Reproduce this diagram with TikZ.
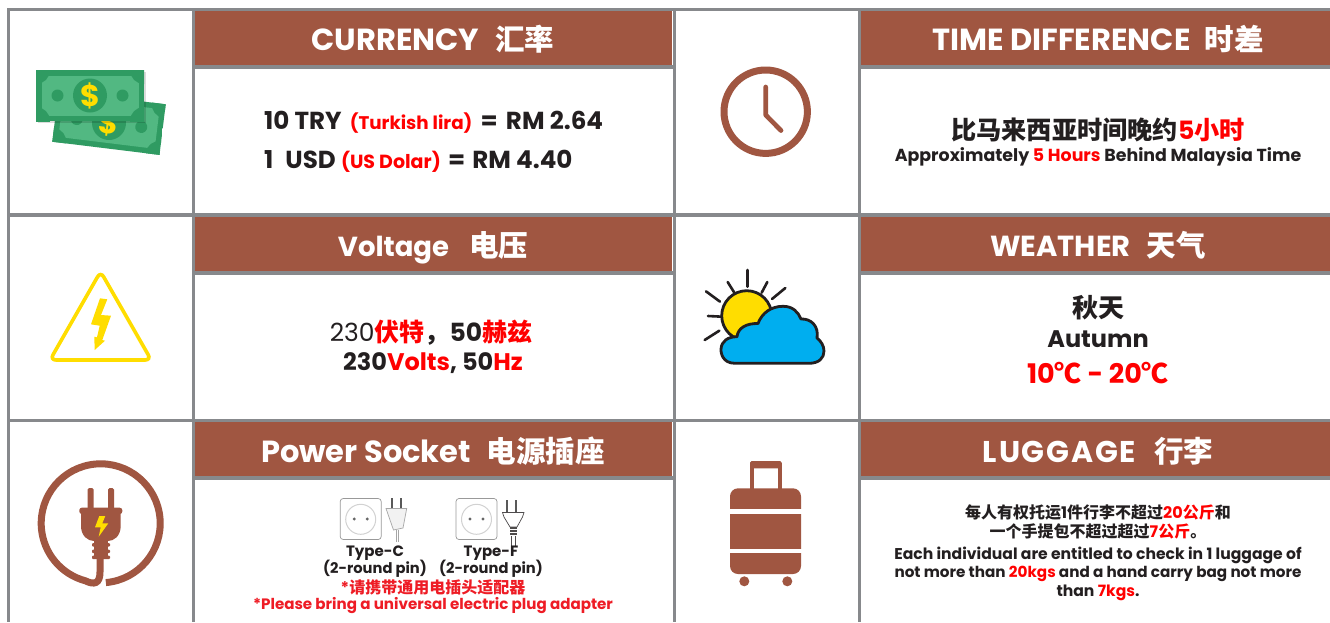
\documentclass[tikz,border=0pt]{standalone}
\usepackage{fontspec}
\setmainfont{Poppins}
\newfontfamily\cjk{Noto Sans CJK SC}
\newcommand\fs[1]{\fontsize{#1}{#1}\selectfont}
\newcommand\C[1]{{\cjk #1}}
\newcommand\HC[1]{{\cjk\fs{29.5}#1}}
\definecolor{bandc}{HTML}{A05641}
\definecolor{gridc}{HTML}{87898C}
\definecolor{ink}{HTML}{231F20}
\definecolor{rd}{HTML}{FF0000}
\definecolor{rd2}{HTML}{EE1C25}
\definecolor{ndark}{HTML}{2F9B62}
\definecolor{nlight}{HTML}{52B882}
\definecolor{yel}{HTML}{FFDD00}
\definecolor{sky}{HTML}{00AEEF}
\newcommand\R[1]{\textcolor{rd}{#1}}
\tikzset{
  every node/.style={inner sep=0pt,outer sep=0pt},
  head/.style={text=white,anchor=base,font=\bfseries\fs{30.5}},
  body/.style={text=ink,font=\bfseries\fs{24.6}},
  gridline/.style={fill=gridc,draw=none},
  band/.style={fill=bandc,draw=none},
  brown/.style={fill=bandc,draw=none},
  ray/.style={draw=ink,line width=2.6pt,line cap=round},
  sockline/.style={draw=gray!80,line width=0.7pt,fill=white},
}
\newcommand\note{%
  \begin{scope}
    \clip (-54,-25.5) rectangle (54,25.5);
    \fill[ndark] (-54,-25.5) rectangle (54,25.5);
    \fill[nlight] (-48.5,-20) rectangle (48.5,20);
    \foreach \a/\b in {-54/-25.5,54/-25.5,-54/25.5,54/25.5}
      \fill[ndark] (\a,\b) circle (14);
    \fill[ndark] (0,0) circle (17);
    \fill[ndark] (-32.5,0) circle (6);
    \fill[ndark] (32.5,0) circle (6);
  \end{scope}}
\begin{document}
\begin{tikzpicture}[x=1pt,y=-1pt]
\useasboundingbox (0,0) rectangle (1330,622);
\fill[white] (0,0) rectangle (1330,622);
% bands
\foreach \y in {11,217,422}{
  \fill[band] (195,\y) rectangle (672,\y+54);
  \fill[band] (860,\y) rectangle (1330,\y+54);
}
% grid
\fill[gridline] (7,7.5) rectangle (1330,11);
\fill[gridline] (7,213) rectangle (1330,216.8);
\fill[gridline] (7,419) rectangle (1330,422);
\foreach \y in {65,271,476}{
  \fill[gridline] (192,\y) rectangle (673,\y+3.8);
  \fill[gridline] (858,\y) rectangle (1330,\y+3.8);
}
\foreach \x in {7,192,673,857.5}
  \fill[gridline] (\x,7.5) rectangle (\x+3.3,622);
% money
\begin{scope}[shift={(109,123)},rotate=-7]
  \note
  \node[transform shape,text=yel,font=\bfseries\fs{30}] (dollarb) at (0,0) {\$};
\end{scope}
\fill[black,opacity=.14] (38,72) rectangle (146,123);
\begin{scope}[shift={(90,95.5)}]
  \note
  \node[text=yel,font=\bfseries\fs{30}] (dollarf) at (0,0) {\$};
\end{scope}
% warning triangle
\draw[yel,line width=3.6pt,rounded corners=6pt] (100.6,271.5) -- (50,360) -- (151.2,360) -- cycle;
\fill[yel] (100,298.3) -- (107.3,299.3) -- (101,315) -- (111,315.7) -- (102.3,340) -- (105,340.7) -- (94.7,350) -- (94.3,336.7) -- (97,337.3) -- (99.7,325.7) -- (91,324.3) -- cycle;
% plug
\draw[bandc,line width=7pt] (100.7,523.3) ++(-85:59.5pt) arc[start angle=-85,end angle=255,radius=59.5pt]
  .. controls (94,585) and (100,584) .. (100,572) -- (100,556);
\fill[brown,rounded corners=1.5pt] (87.7,488) rectangle (93.7,510);
\fill[brown,rounded corners=1.5pt] (108,488) rectangle (114,510);
\fill[brown,rounded corners=2.5pt] (79.3,507.7) rectangle (122.3,514);
\fill[brown] (81,512) -- (120.7,512) -- (120.7,526) .. controls (120.7,536) and (114,541) .. (108,541) -- (94,541) .. controls (88,541) and (81,536) .. (81,526) -- cycle;
\fill[brown] (94,540) rectangle (108,559);
\foreach \y in {543,549.5,555.5}
  \fill[brown,rounded corners=1pt] (92,\y) rectangle (110,\y+3.6);
\fill[yel] (99.3,516) -- (105.3,516) -- (102.3,523.3) -- (108.3,523.3) -- (98.7,536.7) -- (100.7,527.3) -- (95,527.3) -- cycle;
% clock
\draw[bandc,line width=7pt] (765.7,111.7) circle (41.7pt);
\draw[bandc,line width=4.7pt,line cap=round,line join=round] (765.7,87) -- (765.7,115) -- (781,130.5);
% sun and cloud
\foreach \a/\b/\c/\d in {203/150/203/200,143/186/163/218,262/186/245/218,78/214/120/245,316/204/276/237,84/288/125/290,74/360/118/332}
  \draw[ray] (680+\a/3,220+\b/3) -- (680+\c/3,220+\d/3);
\draw[ink,line width=2.8pt,fill=yel] (746.7,315.7) circle (25pt);
\draw[ink,line width=2.8pt,fill=sky,line join=round]
 (735,363.3) .. controls (722,363.3) and (720.7,352) .. (721,349)
 .. controls (721.5,341) and (728,336.7) .. (737,336.7)
 .. controls (738,328) and (746,323.3) .. (758,323.5)
 .. controls (762,313) and (771,306.3) .. (783,306.3)
 .. controls (793,306.3) and (798,312) .. (801,319)
 .. controls (811,318.5) and (819,326) .. (817,338)
 .. controls (821,341) and (824,346) .. (824,351)
 .. controls (824,358) and (819,363.3) .. (809,363.3) -- cycle;
% suitcase
\fill[brown,rounded corners=1.5pt] (750,461) rectangle (781.7,468.3);
\fill[brown] (750,463) rectangle (754,490);
\fill[brown] (777.7,463) rectangle (781.7,490);
\fill[brown,rounded corners=8pt] (730,488.3) rectangle (801,574);
\fill[white] (729,509.3) rectangle (802,514);
\fill[white] (729,549) rectangle (802,552.7);
\fill[brown] (744.3,581.3) circle (5);
\fill[brown] (787.3,581.3) circle (5);
% sockets
\foreach \cx in {360.7,476.5}{
  \draw[sockline,rounded corners=3pt] (\cx-20.5,498.5) rectangle (\cx+20.5,539.5);
  \draw[draw=gray!35,line width=1pt,fill=white] (\cx,519.3) circle (15);
  \fill[gray!80!black] (\cx-6.5,519) circle (1.6);
  \fill[gray!80!black] (\cx+6.5,519) circle (1.6);
}
% type C plug
\fill[gray!70!black] (391,498) rectangle (393,508);
\fill[gray!70!black] (400.3,498) rectangle (402.3,508);
\draw[draw=gray!70,line width=.7pt,fill=gray!10] (386,508.5) -- (406.7,508.5) -- (403,528) -- (393.5,530) -- cycle;
\draw[gray!70,line width=.7pt] (396,530) -- (396,541.5);
\draw[gray!70,line width=.7pt] (398,530) -- (398,541.5);
% type F plug
\fill[gray!70!black] (506,500) rectangle (508,512);
\fill[gray!70!black] (515,500) rectangle (517,512);
\draw[draw=ink!80,line width=.7pt,fill=white] (502.5,512.5) -- (524,512.5) -- (522.5,517) -- (517,527) -- (510,527) -- (504,517) -- cycle;
\foreach \y in {528,531,534}
  \draw[ink!80,line width=1.2pt] (510,\y) -- (517,\y);
\draw[ink!80,line width=.7pt] (511.5,536) -- (511.5,546);
\draw[ink!80,line width=.7pt] (515.5,536) -- (515.5,546);
% headings
\node[head] (h1) at (433,50.5) {CURRENCY\hspace{16pt}\HC{汇率}};
\node[head] (h2) at (1098,50.5) {TIME DIFFERENCE\hspace{14pt}\HC{时差}};
\node[head,font=\bfseries\fs{27.5}] (h3) at (433,256.5) {Voltage\hspace{20pt}\HC{电压}};
\node[head,font=\bfseries\fs{29}] (h4) at (1098,256.5) {WEATHER\hspace{16pt}\HC{天气}};
\node[head] (h5) at (433,462) {Power Socket\hspace{16pt}\HC{电源插座}};
\node[head,font=\bfseries\fs{30}] (h6) at (1098,462) {\addfontfeature{LetterSpace=6}LUGGAGE\hspace{18pt}\HC{行李}};
% currency
\node[body,anchor=west] (c1) at (264,122.5) {10 TRY\hspace{3pt} \R{\fs{18.3}(Turkish lira)}\hspace{3pt} =\hspace{3pt} RM 2.64};
\node[body,anchor=west] (c2) at (264,161.5) {1\hspace{7pt} USD \R{\fs{19}(US Dolar)}\hspace{2pt} =\hspace{2pt} RM 4.40};
% time
\node[body,font=\bfseries\fs{25.2}] (t1) at (1098,130) {\C{比马来西亚时间晚约}\R{5\C{小时}}};
\node[body,font=\bfseries\fs{17.4}] (t2) at (1098,157) {Approximately \R{5 Hours} Behind Malaysia Time};
% voltage
\node[body,font=\bfseries\fs{25}] (v1) at (431,333) {{\mdseries 230}\R{\C{伏特}}\C{，}50\R{\C{赫兹}}};
\node[body,font=\bfseries\fs{24}] (v2) at (433,363) {230\R{Volts}, 50\R{Hz}};
% weather
\node[body,font=\bfseries\fs{26}] (w1) at (1098,308) {\C{秋天}};
\node[body,font=\bfseries\fs{24}] (w2) at (1098,339) {Autumn};
\node[body,font=\bfseries\fs{27},text=rd] (w3) at (1098,373) {10\C{℃} - 20\C{℃}};
% socket labels
\node[body,font=\bfseries\fs{15}] (s1) at (375,553.5) {Type-C};
\node[body,font=\bfseries\fs{14.7}] (s2) at (375,568.5) {(2-round pin)};
\node[body,font=\bfseries\fs{15}] (s3) at (491,553.5) {Type-F};
\node[body,font=\bfseries\fs{14.7}] (s4) at (491,568.5) {(2-round pin)};
\node[text=rd2,font=\bfseries\fs{16}] (s5) at (433,587) {*\C{请携带通用电插头适配器}};
\node[text=rd2,font=\bfseries\fs{15.1}] (s6) at (433,605.5) {*Please bring a universal electric plug adapter};
% luggage
\node[body,font=\bfseries\fs{16}] (l1) at (1098,512) {\C{每人有权托运}1\C{件行李不超过}\R{20\C{公斤}}\C{和}};
\node[body,font=\bfseries\fs{16}] (l2) at (1098,531) {\C{一个手提包不超过超过}\R{7\C{公斤}}\C{。}};
\node[body,font=\bfseries\fs{15.6}] (l3) at (1098,555) {Each individual are entitled to check in 1 luggage of};
\node[body,font=\bfseries\fs{15.2}] (l4) at (1098,574) {not more than \R{20kgs} and a hand carry bag not more};
\node[body,font=\bfseries\fs{15.6}] (l5) at (1098,593) {than \R{7kgs}.};
\end{tikzpicture}
\end{document}
